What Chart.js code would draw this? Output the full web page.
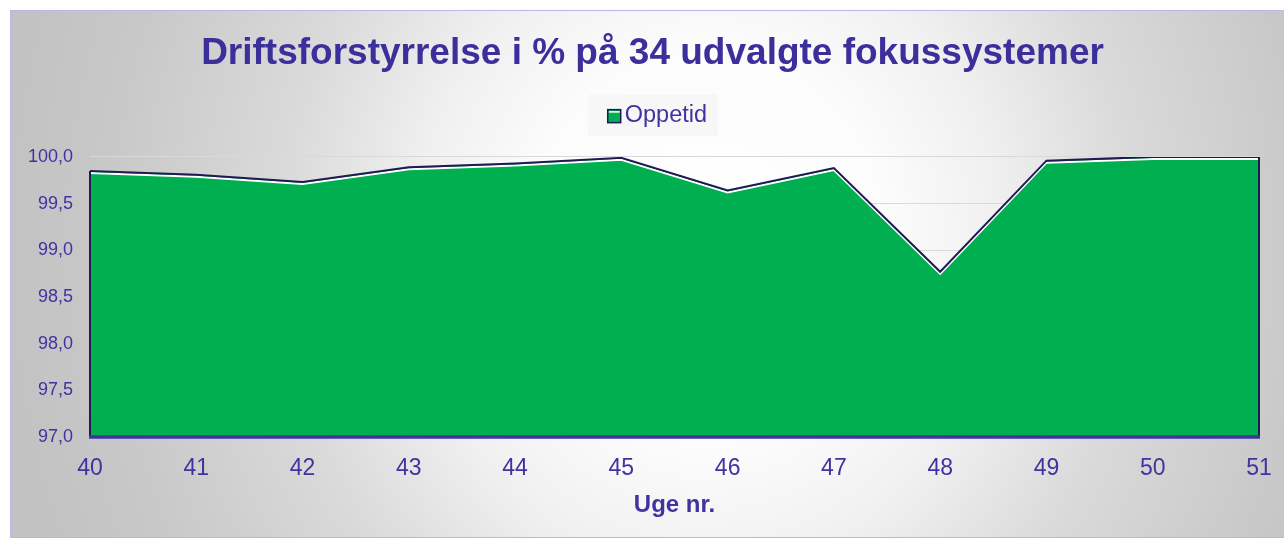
<!DOCTYPE html>
<html>
<head>
<meta charset="utf-8">
<script src="https://cdn.jsdelivr.net/npm/chart.js@4"></script>
<style>
  html, body { margin: 0; padding: 0; background: #ffffff; overflow: hidden; width: 1284px; height: 538px; }
  #frame {
    position: absolute; left: 10px; top: 10px;
    width: 1290px; height: 526px;
    border: 1px solid #bdb5ea;
    background: radial-gradient(ellipse 55% 150% at 54% 45%, #ffffff 0%, #fcfcfc 25%, #f0f0f0 41%, #dadada 60%, #c8c8c8 85%, #c2c2c2 100%);
  }
  #chart-wrap { position: absolute; left: 10px; top: 10px; width: 1274px; height: 526px; }
</style>
</head>
<body>
<div id="frame"></div>
<div id="chart-wrap"><canvas id="uptimeChart"></canvas></div>
<script>
// --- data ---
const weeks = ['40', '41', '42', '43', '44', '45', '46', '47', '48', '49', '50', '51'];
const uptime = [99.85, 99.81, 99.73, 99.89, 99.93, 99.99, 99.64, 99.88, 98.77, 99.96, 100.0, 100.0];
const yTicks = [97.0, 97.5, 98.0, 98.5, 99.0, 99.5, 100.0];
const seriesName = 'Oppetid';

const TEXT = '#3f33a0';
const NAVY = '#1f1a55';
const GREEN = '#00b050';
const FONT = "'Liberation Sans', Arial, sans-serif";
const LEGEND_SIZE = 23.5;
const LEGEND_SPACER = 15;   // invisible box width, nudges the text right
const LEGEND_PAD = 27;
const Y_FONT = 18;

// white highlight under the top line
const lineGlow = {
  id: 'lineGlow',
  beforeDatasetDraw(chart) {
    const ctx = chart.ctx;
    ctx.save();
    ctx.shadowColor = '#ffffff';
    ctx.shadowOffsetX = 0;
    ctx.shadowOffsetY = 2;
    ctx.shadowBlur = 0;
  },
  afterDatasetDraw(chart) {
    chart.ctx.restore();
  }
};

// side edges of the area + heavy bottom axis line
const areaEdges = {
  id: 'areaEdges',
  afterDatasetsDraw(chart) {
    const { ctx, scales: { x, y } } = chart;
    const bottom = y.getPixelForValue(yTicks[0]);
    const x0 = x.getPixelForValue(0);
    const x1 = x.getPixelForValue(weeks.length - 1);
    ctx.save();
    ctx.strokeStyle = NAVY;
    ctx.lineWidth = 2;
    ctx.beginPath();
    ctx.moveTo(x0, y.getPixelForValue(uptime[0]));
    ctx.lineTo(x0, bottom);
    ctx.moveTo(x1, y.getPixelForValue(uptime[uptime.length - 1]));
    ctx.lineTo(x1, bottom);
    ctx.stroke();
    ctx.strokeStyle = TEXT;
    ctx.lineWidth = 3.5;
    ctx.beginPath();
    ctx.moveTo(x0 - 1, bottom);
    ctx.lineTo(x1 + 1, bottom);
    ctx.stroke();
    ctx.restore();
  }
};

function textWidth(chart, str, font) {
  const ctx = chart.ctx;
  ctx.save();
  ctx.font = font;
  const w = ctx.measureText(str).width;
  ctx.restore();
  return w;
}

function legendGeom(chart) {
  const lg = chart.legend;
  const tw = textWidth(chart, seriesName, `${LEGEND_SIZE}px ${FONT}`);
  const itemW = LEGEND_SPACER + LEGEND_SIZE / 2 + tw;
  const x = (lg.left + lg.right - itemW) / 2;
  return {
    textX: x + LEGEND_SPACER + LEGEND_SIZE / 2,
    cy: lg.top + LEGEND_PAD + LEGEND_SIZE / 2
  };
}

// legend panel + the small marker box
const legendDecor = {
  id: 'legendDecor',
  beforeDraw(chart) {
    const { textX, cy } = legendGeom(chart);
    const ctx = chart.ctx;
    ctx.save();
    ctx.fillStyle = '#f7f7f7';
    ctx.fillRect(textX - 37, cy - 21, 130, 42);
    ctx.restore();
  },
  afterDraw(chart) {
    const { textX, cy } = legendGeom(chart);
    const ctx = chart.ctx;
    const bx = textX - 17, by = cy - 5.5;
    ctx.save();
    ctx.fillStyle = GREEN;
    ctx.fillRect(bx, by, 13, 13);
    ctx.fillStyle = '#ffffff';
    ctx.fillRect(bx + 1, by + 1.5, 11, 1.5);
    ctx.strokeStyle = NAVY;
    ctx.lineWidth = 1.5;
    ctx.strokeRect(bx, by, 13, 13);
    ctx.restore();
  }
};

const fmt = (v) => Number(v).toFixed(1).replace('.', ',');

// keep the axes from reserving extra side room for their end labels
const noSidePadding = (scale) => {
  scale.paddingLeft = 0;
  scale.paddingRight = 0;
};

new Chart(document.getElementById('uptimeChart'), {
  type: 'line',
  data: {
    labels: weeks,
    datasets: [{
      label: seriesName,
      data: uptime,
      fill: 'start',
      backgroundColor: GREEN,
      borderColor: NAVY,
      borderWidth: 2,
      pointRadius: 0,
      tension: 0
    }]
  },
  options: {
    responsive: true,
    maintainAspectRatio: false,
    animation: false,
    layout: { padding: { top: 0, right: 25, bottom: 0, left: 36 } },
    plugins: {
      title: {
        display: true,
        text: 'Driftsforstyrrelse i % på 34 udvalgte fokussystemer',
        color: '#3b2f9c',
        font: { family: FONT, size: 37, weight: 'bold' },
        padding: { top: 22, bottom: 0 }
      },
      legend: {
        display: true,
        labels: {
          color: TEXT,
          font: { family: FONT, size: LEGEND_SIZE },
          boxWidth: LEGEND_SPACER,
          boxHeight: 13,
          padding: LEGEND_PAD,
          generateLabels: () => [{
            text: seriesName,
            fillStyle: 'rgba(0,0,0,0)',
            strokeStyle: 'rgba(0,0,0,0)',
            lineWidth: 0,
            fontColor: TEXT
          }]
        }
      },
      tooltip: { enabled: false }
    },
    scales: {
      xTop: {
        type: 'category',
        position: 'top',
        display: true,
        grid: { display: false, drawTicks: false },
        border: { display: false },
        ticks: { display: false },
        afterFit: (scale) => {
          scale.height = 20;
          noSidePadding(scale);
        }
      },
      x: {
        type: 'category',
        offset: false,
        grid: { display: false, drawTicks: false },
        border: { display: false },
        afterFit: (scale) => {
          scale.height = 99;
          noSidePadding(scale);
        },
        ticks: {
          color: TEXT,
          font: { family: FONT, size: 23 },
          padding: 18,
          maxRotation: 0,
          autoSkip: false
        },
        title: {
          display: true,
          text: 'Uge nr.',
          color: TEXT,
          font: { family: FONT, size: 24, weight: 'bold' },
          padding: { top: 0, bottom: 16 }
        }
      },
      y: {
        min: 97,
        max: 100,
        grid: { color: '#d9d9d9', lineWidth: 1, drawTicks: false },
        border: { display: false },
        afterBuildTicks: (scale) => { scale.ticks = yTicks.map(v => ({ value: v })); },
        afterFit: (scale) => { scale.width = 44; },
        ticks: {
          color: TEXT,
          font: { family: FONT, size: Y_FONT },
          mirror: true,
          crossAlign: 'far',
          // mirrored labels are not clipped to the narrow axis box; pull them back left of the plot
          padding: -17 - 45,
          callback: fmt
        }
      }
    }
  },
  plugins: [legendDecor, lineGlow, areaEdges]
});
</script>
</body>
</html>
